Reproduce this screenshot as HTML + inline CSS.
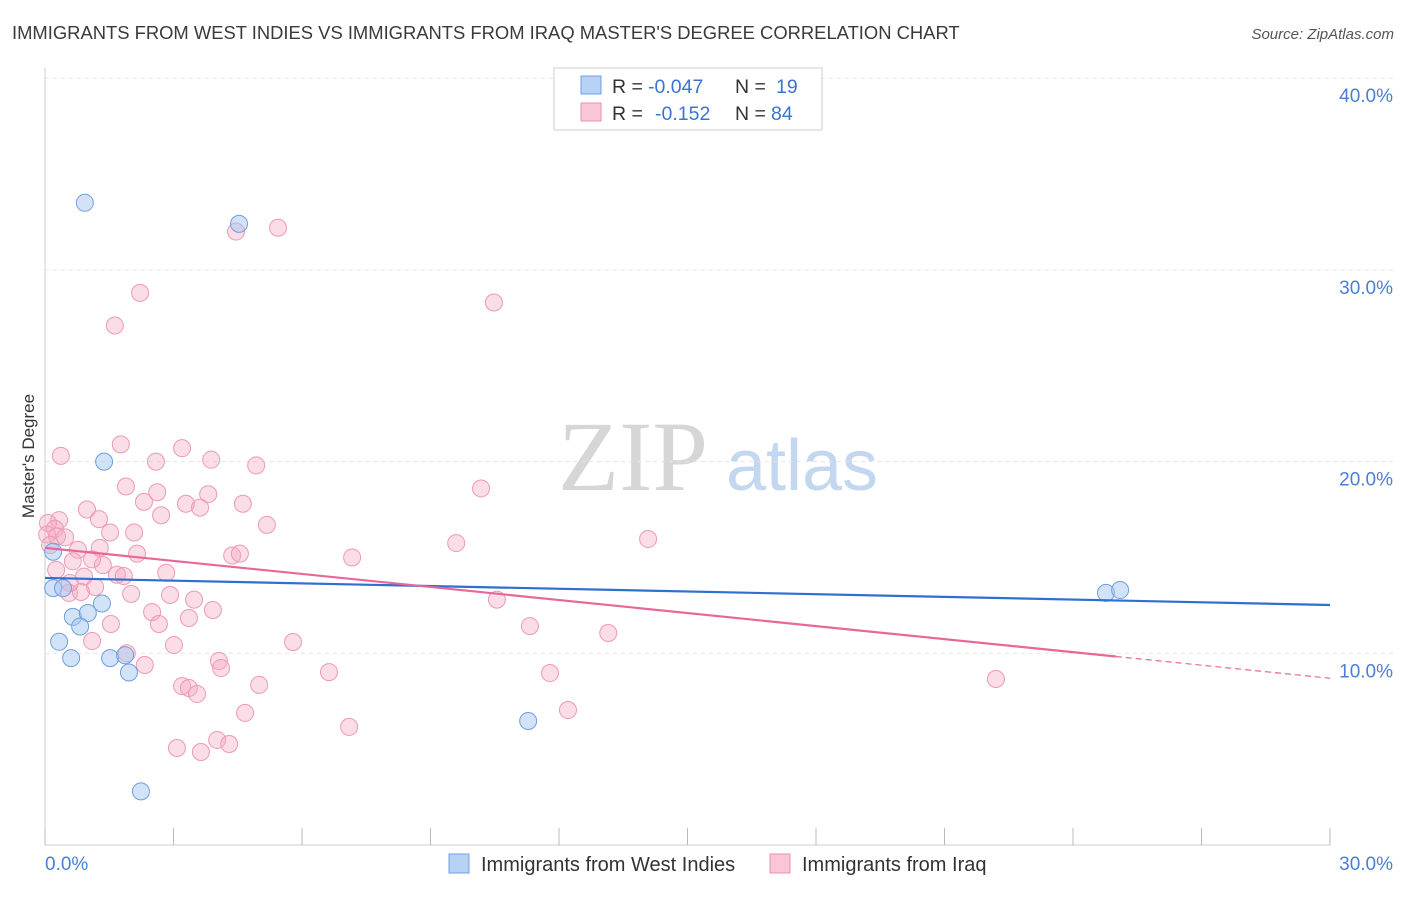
<!DOCTYPE html>
<html><head><meta charset="utf-8"><style>
body{margin:0;background:#fff;}
</style></head><body>
<svg id="c" width="1406" height="892" xmlns="http://www.w3.org/2000/svg" font-family="Liberation Sans, sans-serif">
<text x="12" y="39" font-size="18.4" fill="#3a3a3a">IMMIGRANTS FROM WEST INDIES VS IMMIGRANTS FROM IRAQ MASTER'S DEGREE CORRELATION CHART</text>
<text x="1394" y="39" font-size="15" fill="#555" text-anchor="end" font-style="italic">Source: ZipAtlas.com</text>
<g>
<text x="633" y="490" font-size="100" fill="#d6d6d6" font-family="Liberation Serif, serif" text-anchor="middle">ZIP</text>
<text x="802" y="490" font-size="72" fill="#c3d7f0" text-anchor="middle">atlas</text>
</g>
<text transform="translate(34,456) rotate(-90)" font-size="17" fill="#333" text-anchor="middle">Master's Degree</text>
<g id="grid"></g><g id="pts"></g><g id="lines"></g>
<g>
<rect x="554" y="68" width="268" height="62" fill="#fff" stroke="#ccc"/>
<rect x="581" y="76" width="20" height="18" fill="#b7d2f5" stroke="#6f9fe0"/>
<rect x="581" y="103" width="20" height="18" fill="#f9c6d5" stroke="#e990ad"/>
<text x="612" y="93" font-size="19.5" fill="#333">R =</text>
<text x="648" y="93" font-size="19.5" fill="#3b74d0">-0.047</text>
<text x="735" y="93" font-size="19.5" fill="#333">N =</text>
<text x="776" y="93" font-size="19.5" fill="#3b74d0">19</text>
<text x="612" y="120" font-size="19.5" fill="#333">R =</text>
<text x="655" y="120" font-size="19.5" fill="#3b74d0">-0.152</text>
<text x="735" y="120" font-size="19.5" fill="#333">N =</text>
<text x="771" y="120" font-size="19.5" fill="#3b74d0">84</text>
</g>
<g>
<rect x="449" y="854" width="20" height="19" fill="#b7d2f5" stroke="#6f9fe0"/>
<text x="481" y="871" font-size="20" fill="#333">Immigrants from West Indies</text>
<rect x="770" y="854" width="20" height="19" fill="#f9c6d5" stroke="#e990ad"/>
<text x="802" y="871" font-size="20" fill="#333">Immigrants from Iraq</text>
</g>
</svg>
<script>
const blueX=[0.93,4.53,1.38,0.19,0.19,0.42,1.33,0.65,1.0,0.82,0.33,0.61,1.52,1.87,1.96,11.28,2.24,24.77,25.1];
const blueY=[33.5,32.4,20.0,15.3,13.4,13.4,12.6,11.9,12.1,11.4,10.6,9.75,9.75,9.9,9.0,6.47,2.8,13.15,13.3];
const pinkX=[4.46,5.44,2.22,10.48,1.63,0.37,1.77,3.2,2.59,3.88,4.93,1.89,10.18,2.62,3.81,2.31,3.29,4.62,3.62,0.98,2.71,1.26,5.18,0.33,0.07,0.23,1.52,2.08,0.05,0.28,0.47,9.6,14.08,1.28,0.77,2.15,4.37,4.55,7.17,0.65,1.35,1.1,0.91,1.68,1.84,2.83,0.26,1.17,2.01,0.56,0.84,2.92,3.48,10.55,2.5,3.92,3.36,1.54,2.66,11.32,13.15,1.1,3.01,5.79,1.91,4.06,2.33,4.11,6.63,11.79,22.2,3.2,5.0,3.36,3.55,4.67,12.21,7.1,4.02,3.08,4.3,3.64,0.58,0.12];
const pinkY=[32.0,32.2,28.8,28.3,27.1,20.3,20.9,20.7,20.0,20.1,19.8,18.7,18.6,18.4,18.3,17.9,17.8,17.8,17.6,17.5,17.2,17.0,16.7,16.95,16.8,16.5,16.3,16.3,16.2,16.1,16.05,15.75,15.96,15.5,15.4,15.2,15.1,15.2,15.0,14.8,14.6,14.9,14.0,14.1,14.03,14.2,14.35,13.46,13.1,13.15,13.2,13.04,12.8,12.8,12.15,12.26,11.84,11.53,11.53,11.42,11.06,10.64,10.43,10.59,10.0,9.6,9.39,9.23,9.02,8.97,8.66,8.29,8.35,8.19,7.88,6.89,7.04,6.16,5.48,5.06,5.27,4.85,13.67,15.65];
const yTicks=[10,20,30,40];
const yTickLabels=["10.0%","20.0%","30.0%","40.0%"];
const blueTrend=[13.93,12.52];
const pinkTrend=[15.5,8.7];
const pinkSolidEnd=25;
const NS="http://www.w3.org/2000/svg";
const sx=v=>45+v*1285/30, sy=v=>845-v*19.17;
function mk(t,a,p){const e=document.createElementNS(NS,t);for(const k in a)e.setAttribute(k,a[k]);p.appendChild(e);return e;}
const grid=document.getElementById('grid');
mk('line',{x1:45,y1:68,x2:45,y2:845,stroke:'#ccc'},grid);
mk('line',{x1:45,y1:845,x2:1330,y2:845,stroke:'#ccc'},grid);
for(let i=0;i<=10;i++){const l=mk('line',{x1:sx(i*3),y1:828,x2:sx(i*3),y2:845,stroke:'#bbb'},grid);

}
yTicks.forEach((v,i)=>{const l=mk('line',{x1:45,y1:sy(v),x2:1394,y2:sy(v),stroke:'#e3e3e3','stroke-dasharray':'4,4'},grid);


const t=mk('text',{x:1393,y:sy(v)+24,'font-size':19,fill:'#4a7fd4','text-anchor':'end'},grid);t.textContent=yTickLabels[i];

});
const x0=mk('text',{x:45,y:870,'font-size':19,fill:'#4a7fd4'},grid);x0.textContent='0.0%';


const x1=mk('text',{x:1393,y:870,'font-size':19,fill:'#4a7fd4','text-anchor':'end'},grid);x1.textContent='30.0%';


const pts=document.getElementById('pts');
pinkX.forEach((x,i)=>{const c=mk('circle',{cx:sx(x),cy:sy(pinkY[i]),r:8.5,fill:'rgba(246,170,195,0.4)',stroke:'#ec9ab5','stroke-width':1},pts);

});
blueX.forEach((x,i)=>{const c=mk('circle',{cx:sx(x),cy:sy(blueY[i]),r:8.5,fill:'rgba(165,198,240,0.5)',stroke:'#6f9fe0','stroke-width':1},pts);

});
const ln=document.getElementById('lines');
const b=mk('line',{x1:sx(0),y1:sy(blueTrend[0]),x2:sx(30),y2:sy(blueTrend[1]),stroke:'#2f6fd0','stroke-width':2.2},ln);


const pm=pinkTrend[0]+(pinkTrend[1]-pinkTrend[0])*pinkSolidEnd/30;
const p=mk('line',{x1:sx(0),y1:sy(pinkTrend[0]),x2:sx(pinkSolidEnd),y2:sy(pm),stroke:'#e8679a','stroke-width':2.2},ln);


const pd=mk('line',{x1:sx(pinkSolidEnd),y1:sy(pm),x2:sx(30),y2:sy(pinkTrend[1]),stroke:'#e8679a','stroke-width':1.2,'stroke-dasharray':'6,4'},ln);


</script>
</body></html>
